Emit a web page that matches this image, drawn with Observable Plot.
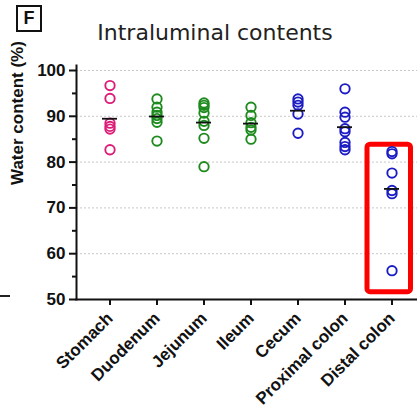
<!DOCTYPE html>
<html>
<head>
<meta charset="utf-8">
<script src="https://cdn.jsdelivr.net/npm/d3@7"></script>
<script src="https://cdn.jsdelivr.net/npm/@observablehq/plot@0.6"></script>
<style>
  html, body { margin: 0; padding: 0; background: #fff; }
  #wrap { position: relative; width: 417px; height: 412px; overflow: hidden; }
  #panel { position: absolute; left: 16px; top: 5px; width: 22px; height: 23px; border: 2px solid #111;
    font: bold 18px "Liberation Sans", Arial, sans-serif; line-height: 23px; text-align: center; color: #111; }
  #title { position: absolute; left: 0; width: 430px; top: 20px; text-align: center;
    font: 22px "DejaVu Sans", Verdana, sans-serif; color: #222; }
  #dash { position: absolute; left: 0; top: 295px; width: 10px; height: 2px; background: #222; }
  #chart { position: absolute; left: 0; top: 0; }
</style>
</head>
<body>
<div id="wrap">
  <div id="chart"></div>
  <div id="panel">F</div>
  <div id="title">Intraluminal contents</div>
  <div id="dash"></div>
</div>
<script>
const categories = ["Stomach", "Duodenum", "Jejunum", "Ileum", "Cecum", "Proximal colon", "Distal colon"];
const stomach = [96.7, 93.9, 88.5, 87.8, 87.2, 82.7];
const duodenum = [93.8, 92.0, 90.9, 90.2, 89.5, 88.7, 84.6];
const jejunum = [92.9, 92.4, 91.9, 90.7, 88.9, 88.0, 85.2, 79.0];
const ileum = [92.0, 90.2, 88.6, 87.6, 87.0, 85.0];
const cecum = [93.8, 93.1, 92.4, 90.5, 86.3];
const proximalColon = [96.0, 90.9, 89.8, 87.3, 86.6, 84.3, 83.4, 82.7];
const distalColon = [82.3, 81.8, 77.6, 73.8, 73.1, 56.3];
const groupColors = ["#dd1c77", "#1d8a1d", "#1d8a1d", "#1d8a1d", "#1c1cc4", "#1c1cc4", "#1c1cc4"];
const yTicks = [50, 60, 70, 80, 90, 100];
const yMinorTicks = [55, 65, 75, 85, 95];
const highlight = [{category: "Distal colon", low: 51.6, high: 83.8}];

const series = [stomach, duodenum, jejunum, ileum, cecum, proximalColon, distalColon];
const points = [];
series.forEach((vals, i) => vals.forEach(v => points.push({category: categories[i], value: v})));
const means = series.map((vals, i) => ({category: categories[i], value: d3.mean(vals)}));
const colorOf = Object.fromEntries(categories.map((c, i) => [c, groupColors[i]]));

const chart = Plot.plot({
  width: 417,
  height: 412,
  marginTop: 70,
  marginBottom: 113,
  marginLeft: 76,
  marginRight: 0,
  style: {fontFamily: "'Liberation Sans', Arial, sans-serif", color: "#111", background: "transparent"},
  x: {type: "band", domain: categories, range: [83.2, 417], padding: 0},
  y: {domain: [50, 100]},
  marks: [
    Plot.gridY(yTicks.slice(1), {stroke: "#c8c8c8", strokeOpacity: 1, strokeDasharray: "2,2"}),
    Plot.barY(highlight, {x: "category", y1: "low", y2: "high", fill: "none", stroke: "#ff0000", strokeWidth: 5, rx: 3, insetLeft: -1, insetRight: 4.5}),
    Plot.dot(points, {x: "category", y: "value", r: 4.7, stroke: d => colorOf[d.category], strokeWidth: 1.9, fill: "none"}),
    Plot.tickY(means, {x: "category", y: "value", stroke: "#111", strokeWidth: 1.8, insetLeft: 16, insetRight: 16}),
    Plot.axisY(yTicks, {tickSize: 7, tickPadding: 4, fontSize: 17, fontWeight: "bold", strokeWidth: 2, label: null}),
    Plot.axisY(yMinorTicks, {tickSize: 4, strokeWidth: 2, text: null, label: null}),
    Plot.axisX({tickSize: 6, tickPadding: 10, tickRotate: -45, fontSize: 17, fontWeight: "bold", strokeWidth: 2, label: null}),
    Plot.frame({anchor: "left", strokeWidth: 2, insetTop: -5}),
    Plot.frame({anchor: "bottom", strokeWidth: 2}),
    Plot.text(["Water content (%)"], {frameAnchor: "left", rotate: -90, dx: -59, fontSize: 17, fontWeight: "bold", fill: "#111"})
  ]
});
document.getElementById("chart").appendChild(chart);
</script>
</body>
</html>
